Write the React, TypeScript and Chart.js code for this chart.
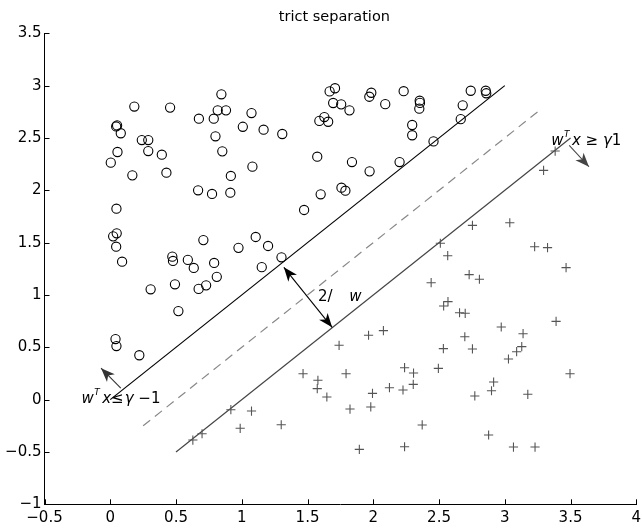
import React, { useEffect, useRef } from "react";
import { Chart, registerables } from "chart.js";

Chart.register(...registerables);

// ---------- data ----------
const titleText = "trict separation";

const circleX = [
  0.183, 0.455, 0.045, 0.052, 0.08, 0.055, 0.004, 0.24, 0.289, 0.289, 0.392, 0.168, 0.427,
  0.674, 0.787, 0.845, 0.817, 0.88, 0.8, 0.852, 1.074, 1.008, 1.166, 1.308, 1.081, 0.917,
  0.668, 0.774, 0.913, 1.474, 0.047, 0.049, 0.022, 0.045, 0.09, 0.708, 0.975, 1.106, 1.2,
  1.302, 0.472, 0.477, 0.59, 0.79, 0.635, 1.152, 0.81, 0.492, 0.307, 0.672, 0.729, 0.518,
  0.04, 0.047, 0.221,
  1.668, 1.709, 1.695, 1.756, 1.819, 1.59, 1.628, 1.657, 1.97, 1.985, 2.091, 2.231, 2.353,
  2.355, 2.35, 2.296, 2.296, 2.458, 2.665, 2.68, 2.741, 2.855, 2.859, 1.574, 1.838, 1.972,
  2.2, 1.758, 1.788, 1.6,
];
const circleY = [
  2.8, 2.79, 2.61, 2.62, 2.545, 2.366, 2.264, 2.48, 2.48, 2.375, 2.34, 2.143, 2.168,
  2.684, 2.684, 2.917, 2.764, 2.764, 2.516, 2.372, 2.738, 2.607, 2.579, 2.538, 2.226, 2.137,
  2.0, 1.965, 1.977, 1.812, 1.824, 1.589, 1.56, 1.461, 1.318, 1.524, 1.45, 1.554, 1.468,
  1.36, 1.366, 1.325, 1.335, 1.306, 1.258, 1.266, 1.173, 1.102, 1.054, 1.058, 1.092, 0.846,
  0.579, 0.512, 0.424,
  2.945, 2.975, 2.834, 2.821, 2.764, 2.663, 2.7, 2.655, 2.894, 2.932, 2.823, 2.947, 2.856,
  2.835, 2.78, 2.624, 2.526, 2.467, 2.68, 2.812, 2.951, 2.951, 2.927, 2.321, 2.27, 2.181,
  2.27, 2.025, 1.996, 1.962,
];

const plusX = [
  3.038, 2.754, 2.51, 2.566, 3.227, 3.325, 3.466, 2.44, 2.729, 2.807, 2.568, 2.535, 2.656,
  2.699, 3.39, 2.973, 3.139, 3.129, 3.09, 3.028, 2.696, 2.754, 2.533, 2.495, 1.964, 2.077,
  1.74, 1.466, 1.793, 1.579, 1.574, 1.647, 1.823, 1.981, 1.994, 2.123, 2.226, 2.238, 2.306,
  2.304, 2.372, 1.894, 2.238, 2.915, 2.899, 2.772, 3.175, 3.496, 2.877, 3.066, 3.23, 3.383,
  3.295, 0.917, 1.074, 0.988, 1.3, 0.628, 0.698,
];
const plusY = [
  1.69, 1.665, 1.494, 1.375, 1.461, 1.452, 1.261, 1.117, 1.194, 1.15, 0.936, 0.895, 0.83,
  0.825, 0.748, 0.694, 0.63, 0.506, 0.458, 0.388, 0.601, 0.484, 0.487, 0.299, 0.615, 0.659,
  0.519, 0.248, 0.248, 0.185, 0.105, 0.025, -0.09, -0.07, 0.06, 0.114, 0.092, 0.305, 0.254,
  0.146, -0.242, -0.475, -0.45, 0.168, 0.085, 0.035, 0.051, 0.248, -0.338, -0.453, -0.453,
  2.375, 2.19, -0.096, -0.109, -0.274, -0.24, -0.386, -0.326,
];

// boundary lines (w^T x = gamma -1, gamma, gamma +1)
const upperLineX = [0, 3];
const upperLineY = [0, 3];
const midLineX = [0.25, 3.25];
const midLineY = [-0.25, 2.75];
const lowerLineX = [0.5, 3.5];
const lowerLineY = [-0.5, 2.5];

const xTicks = [-0.5, 0, 0.5, 1, 1.5, 2, 2.5, 3, 3.5, 4];
const yTicks = [-1, -0.5, 0, 0.5, 1, 1.5, 2, 2.5, 3, 3.5];

// annotation arrows: [tailX, tailY, tipX, tipY]
const arrowLeft = [0.08, 0.11, -0.07, 0.3];
const arrowRight = [3.49, 2.43, 3.64, 2.225];
const arrowMargin = [1.32, 1.264, 1.687, 0.691];

// annotation text anchors (data coords): [x, baseline y]
const labelLeftPos = [-0.219, -0.035];
const labelRightPos = [3.353, 2.433];
const labelMarginPos = [1.579, 0.945];
const labelMarginWPos = [1.818, 0.945];

// ---------- helpers ----------
const FONT = "'DejaVu Sans', 'Liberation Sans', sans-serif";

const fmt = (v: number) => (v < 0 ? "\u2212" + String(Math.abs(v)) : String(v));
const pts = (xs: number[], ys: number[]) => xs.map((x, i) => ({ x, y: ys[i] }));

function drawHead(ctx: CanvasRenderingContext2D, fx: number, fy: number, tx: number, ty: number, len: number, half: number) {
  const ang = Math.atan2(ty - fy, tx - fx);
  const bx = tx - len * Math.cos(ang);
  const by = ty - len * Math.sin(ang);
  const nx = -Math.sin(ang);
  const ny = Math.cos(ang);
  const ix = tx - len * 0.72 * Math.cos(ang);
  const iy = ty - len * 0.72 * Math.sin(ang);
  ctx.beginPath();
  ctx.moveTo(tx, ty);
  ctx.lineTo(bx + nx * half, by + ny * half);
  ctx.lineTo(ix, iy);
  ctx.lineTo(bx - nx * half, by - ny * half);
  ctx.closePath();
  ctx.fill();
}

function drawArrow(ctx: CanvasRenderingContext2D, x0: number, y0: number, x1: number, y1: number, color: string, both: boolean) {
  ctx.save();
  ctx.strokeStyle = color;
  ctx.fillStyle = color;
  ctx.lineWidth = 1.1;
  ctx.beginPath();
  ctx.moveTo(x0, y0);
  ctx.lineTo(x1, y1);
  ctx.stroke();
  drawHead(ctx, x0, y0, x1, y1, 14, 5.5);
  if (both) drawHead(ctx, x1, y1, x0, y0, 14, 5.5);
  ctx.restore();
}

type Part = { t: string; font: string; dy?: number; dx?: number };

function drawParts(ctx: CanvasRenderingContext2D, x0: number, base: number, parts: Part[]) {
  let cx = x0;
  for (const p of parts) {
    cx += p.dx || 0;
    ctx.font = p.font;
    ctx.fillText(p.t, cx, base + (p.dy || 0));
    cx += ctx.measureText(p.t).width;
  }
}

const annotationPlugin = {
  id: "svmAnnotations",
  afterDatasetsDraw(chart: any) {
    const { ctx, chartArea } = chart;
    const xs = chart.scales.x;
    const ys = chart.scales.y;
    const px = (v: number) => xs.getPixelForValue(v);
    const py = (v: number) => ys.getPixelForValue(v);

    // inward tick marks
    ctx.save();
    ctx.strokeStyle = "#000";
    ctx.lineWidth = 1;
    ctx.beginPath();
    for (const v of xTicks) {
      const X = Math.round(px(v)) + 0.5;
      ctx.moveTo(X, chartArea.bottom);
      ctx.lineTo(X, chartArea.bottom - 5);
    }
    for (const v of yTicks) {
      const Y = Math.round(py(v)) + 0.5;
      ctx.moveTo(chartArea.left, Y);
      ctx.lineTo(chartArea.left + 5, Y);
    }
    ctx.stroke();
    ctx.restore();

    // arrows
    drawArrow(ctx, px(arrowLeft[0]), py(arrowLeft[1]), px(arrowLeft[2]), py(arrowLeft[3]), "#333", false);
    drawArrow(ctx, px(arrowRight[0]), py(arrowRight[1]), px(arrowRight[2]), py(arrowRight[3]), "#444", false);
    drawArrow(ctx, px(arrowMargin[0]), py(arrowMargin[1]), px(arrowMargin[2]), py(arrowMargin[3]), "#000", true);

    // texts
    ctx.save();
    ctx.fillStyle = "#000";
    ctx.textBaseline = "alphabetic";
    ctx.textAlign = "left";
    const it = `italic 15px ${FONT}`;
    const rm = `15px ${FONT}`;
    const sup = `italic 9px ${FONT}`;
    drawParts(ctx, px(labelLeftPos[0]), py(labelLeftPos[1]), [
      { t: "w", font: it },
      { t: "T", font: sup, dy: -8, dx: 0.5 },
      { t: "x", font: it, dx: 2.5 },
      { t: "\u2264", font: rm },
      { t: "\u03B3", font: it, dx: 1 },
      { t: " \u22121", font: rm },
    ]);
    drawParts(ctx, px(labelRightPos[0]), py(labelRightPos[1]), [
      { t: "w", font: it },
      { t: "T", font: sup, dy: -8, dx: 0.5 },
      { t: "x", font: it, dx: 2.5 },
      { t: " \u2265", font: rm },
      { t: " \u03B3", font: it },
      { t: "1", font: rm },
    ]);
    ctx.font = rm;
    ctx.fillText("2/", px(labelMarginPos[0]), py(labelMarginPos[1]));
    ctx.font = it;
    ctx.fillText("w", px(labelMarginWPos[0]), py(labelMarginWPos[1]));

    // title
    ctx.font = `14.5px ${FONT}`;
    ctx.textAlign = "center";
    ctx.fillText(titleText, (chartArea.left + chartArea.right) / 2 - 6, 20.7);
    ctx.restore();
  },
};

export default function App() {
  const ref = useRef<HTMLCanvasElement | null>(null);

  useEffect(() => {
    if (!ref.current) return;
    const tickFont = { family: FONT, size: 15 };
    const chart = new Chart(ref.current, {
      type: "scatter",
      data: {
        datasets: [
          {
            label: "upper",
            data: pts(upperLineX, upperLineY),
            showLine: true,
            borderColor: "#000",
            borderWidth: 1.2,
            pointRadius: 0,
            order: 3,
          },
          {
            label: "mid",
            data: pts(midLineX, midLineY),
            showLine: true,
            borderColor: "#888",
            borderWidth: 1.2,
            borderDash: [9, 6],
            pointRadius: 0,
            order: 4,
          },
          {
            label: "lower",
            data: pts(lowerLineX, lowerLineY),
            showLine: true,
            borderColor: "#444",
            borderWidth: 1.2,
            pointRadius: 0,
            order: 5,
          },
          {
            label: "class -1",
            data: pts(circleX, circleY),
            pointStyle: "circle",
            pointRadius: 4.6,
            borderColor: "#000",
            backgroundColor: "rgba(0,0,0,0)",
            borderWidth: 1.1,
            order: 1,
          },
          {
            label: "class +1",
            data: pts(plusX, plusY),
            pointStyle: "cross",
            pointRadius: 4.6,
            borderColor: "#555",
            backgroundColor: "#555",
            borderWidth: 1.1,
            order: 2,
          },
        ],
      },
      options: {
        responsive: false,
        animation: false,
        events: [],
        layout: { padding: { left: 0, right: 1.3, top: 33.3, bottom: 0 } },
        plugins: {
          legend: { display: false },
          tooltip: { enabled: false },
          title: { display: false },
        },
        scales: {
          x: {
            type: "linear",
            min: -0.5,
            max: 4,
            grid: { display: false, drawTicks: false },
            border: { display: true, color: "#000", width: 1 },
            ticks: {
              color: "#000",
              font: tickFont,
              padding: 5,
              autoSkip: false,
              maxRotation: 0,
              callback: (v: any) => fmt(Number(v)),
            },
            afterBuildTicks: (s: any) => {
              s.ticks = xTicks.map((v) => ({ value: v }));
            },
            afterFit: (s: any) => {
              s.height = 532 - 504.3;
              s.paddingLeft = 0;
              s.paddingRight = 0;
            },
          },
          y: {
            type: "linear",
            min: -1,
            max: 3.5,
            grid: { display: false, drawTicks: false },
            border: { display: true, color: "#000", width: 1 },
            ticks: {
              color: "#000",
              font: tickFont,
              padding: 3,
              autoSkip: false,
              callback: (v: any) => fmt(Number(v)),
            },
            afterBuildTicks: (s: any) => {
              s.ticks = yTicks.map((v) => ({ value: v }));
            },
            afterFit: (s: any) => {
              s.width = 44.5;
              s.paddingTop = 0;
              s.paddingBottom = 0;
            },
          },
        },
      } as any,
      plugins: [annotationPlugin],
    });
    return () => chart.destroy();
  }, []);

  return (
    <div style={{ position: "absolute", left: 0, top: 0, width: 642, height: 532, background: "#fff" }}>
      <canvas ref={ref} width={642} height={532} style={{ display: "block" }} />
    </div>
  );
}
